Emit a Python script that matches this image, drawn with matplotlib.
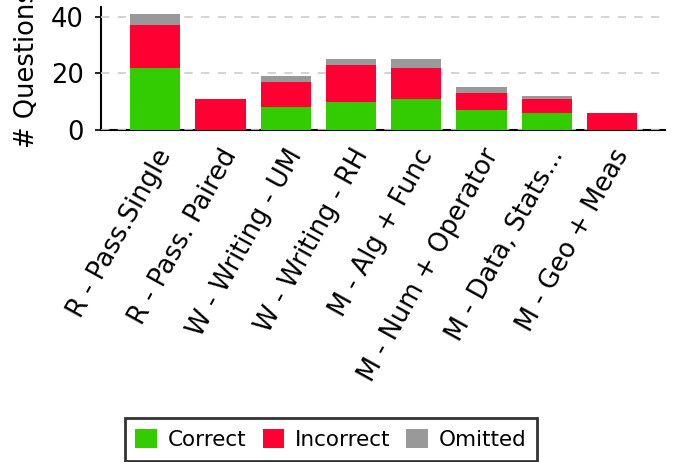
import matplotlib
matplotlib.use('Agg')
import matplotlib.pyplot as plt
import matplotlib.transforms as mtransforms
import numpy as np

# Datos
categorias = ['R - Pass.Single', 'R - Pass. Paired', 'W - Writing - UM',
              'W - Writing - RH', 'M - Alg + Func', 'M - Num + Operator',
              'M - Data, Stats...', 'M - Geo + Meas']
correct = [22, 0, 8, 10, 11, 7, 6, 0]
incorrect = [15, 11, 9, 13, 11, 6, 5, 6]
omitted = [4, 0, 2, 2, 3, 2, 1, 0]

c_green = '#33cc00'
c_red = '#ff0033'
c_gray = '#999999'

plt.rcParams['font.family'] = 'DejaVu Sans'
plt.rcParams['font.size'] = 18.5

fig = plt.figure(figsize=(6.9, 4.62), dpi=100)
ax = fig.add_axes([101/690, 1-130/462, (665-101)/690, (130-7)/462])

x = np.arange(len(categorias))
w = 0.77
bottom2 = np.array(correct)
bottom3 = bottom2 + np.array(incorrect)

ax.bar(x, correct, w, color=c_green, label='Correct', zorder=3)
ax.bar(x, incorrect, w, bottom=bottom2, color=c_red, label='Incorrect', zorder=3)
ax.bar(x, omitted, w, bottom=bottom3, color=c_gray, label='Omitted', zorder=3)

ax.set_xlim(-0.83, 7.81)
ax.set_ylim(0, 43.4)
ax.set_yticks([0, 20, 40])
ax.yaxis.grid(True, linestyle=(0, (5, 5)), color='#cccccc', linewidth=1.2, zorder=4)
ax.set_axisbelow(False)

for s in ['top', 'right']:
    ax.spines[s].set_visible(False)
ax.spines['left'].set_linewidth(1.5)
ax.spines['bottom'].set_linewidth(1.5)
ax.spines['left'].set_color('black')
ax.spines['bottom'].set_color('black')

ax.set_xticks(x)
ax.set_xticklabels(categorias, rotation=61, ha='right', rotation_mode='anchor', va='center')
ax.tick_params(axis='x', length=0, pad=15)
ax.tick_params(axis='y', length=4.5, width=1.2, pad=8)
offset = mtransforms.ScaledTranslation(11/100, 0, fig.dpi_scale_trans)
for lab in ax.get_xticklabels():
    lab.set_transform(lab.get_transform() + offset)

ax.set_ylabel('# Questions', labelpad=8)

leg = fig.legend(loc='lower center', bbox_to_anchor=(331/690, 1.5/462), ncol=3,
                 frameon=True, fancybox=False, edgecolor='black',
                 handlelength=1, handleheight=1, borderpad=0.5, borderaxespad=0,
                 columnspacing=0.75, handletextpad=0.5, fontsize=15.5)
leg.get_frame().set_linewidth(2)

plt.savefig('out.png', dpi=100)
